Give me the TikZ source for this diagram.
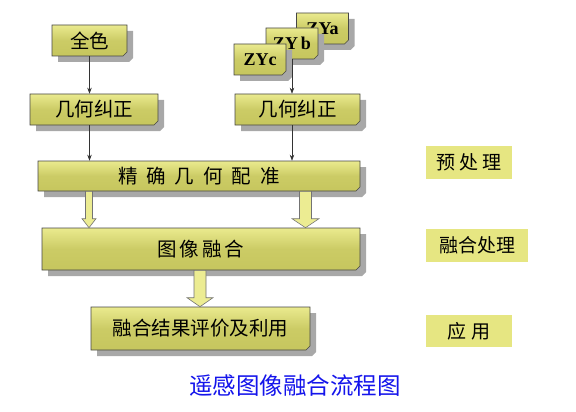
\documentclass[tikz,border=0pt]{standalone}
\usepackage{fontspec}
\setmainfont{Noto Sans CJK SC}
\newfontfamily\tms{Liberation Serif}
\usetikzlibrary{shapes.misc,shadows,calc,arrows.meta}
\definecolor{boxtop}{RGB}{234,234,142}
\definecolor{boxbot}{RGB}{198,198,94}
\definecolor{labfill}{RGB}{230,230,130}
\definecolor{shd}{RGB}{168,168,168}
\definecolor{edge}{RGB}{70,70,70}
\definecolor{ttl}{RGB}{20,20,235}
\definecolor{arrfill}{RGB}{236,236,146}
\begin{document}
\begin{tikzpicture}[x=1pt,y=-1pt,
  box/.style={chamfered rectangle, chamfered rectangle corners=south east,
    chamfered rectangle xsep=2pt, chamfered rectangle ysep=2pt,
    draw=edge, line width=0.6pt, top color=boxtop, bottom color=boxbot,
    middle color=boxbot!85!boxtop,
    drop shadow={shadow xshift=6pt, shadow yshift=-6pt, fill=shd, opacity=1},
    inner sep=0pt, font=\fontsize{19.5pt}{22pt}\selectfont},
  zybox/.style={box, minimum width=52pt, minimum height=31pt,
    font=\tms\fontsize{18pt}{20pt}\selectfont\bfseries},
  labbox/.style={rectangle, fill=labfill, inner sep=0pt,
    font=\fontsize{19pt}{21pt}\selectfont},
  thinarr/.style={draw=black!80, line width=0.6pt, -{Stealth[length=6pt,width=4.5pt]}},
  barrow/.style={fill=arrfill, draw=black!55, line width=0.6pt, line join=miter}]
\useasboundingbox (0,0) rectangle (576,412);

% top sources
\node[box, minimum width=75pt, minimum height=31pt] (qs) at (89.5,40.5) {全色};
\node[zybox] (zya) at (322.5,28.5) {ZYa};
\node[zybox] (zyb) at (292,43.5) {ZY\,b};
\node[zybox] (zyc) at (260,59.5) {ZYc};

% geometric correction
\node[box, minimum width=128pt, minimum height=31pt] (gl) at (94,109.5) {几何纠正};
\node[box, minimum width=125pt, minimum height=31pt] (gr) at (297.5,109.5) {几何纠正};

% registration
\node[box, minimum width=322pt, minimum height=30pt] (prec) at (199,176)
  {精\hspace{9pt}确\hspace{9pt}几\hspace{9pt}何\hspace{9pt}配\hspace{9pt}准};

% fusion
\node[box, minimum width=318pt, minimum height=42pt] (fuse) at (201,249)
  {图\hspace{3pt}像\hspace{3pt}融\hspace{3pt}合};

% evaluation
\node[box, minimum width=219pt, minimum height=43pt] (eval) at (200.5,328.5)
  {融合结果评价及利用};

% right labels
\node[labbox, minimum width=86pt, minimum height=33pt] (lab1) at (469,162.5) {预\hspace{4pt}处\hspace{4pt}理};
\node[labbox, minimum width=102pt, minimum height=33pt] (lab2) at (477,245.5) {融合处理};
\node[labbox, minimum width=86pt, minimum height=32pt] (lab3) at (469,331) {应\hspace{6pt}用};

% title
\node[text=ttl, font=\fontsize{23.5pt}{26pt}\selectfont, inner sep=0pt] (title) at (295,386) {遥感图像融合流程图};

% thin arrows
\draw[thinarr] (qs.south) -- (qs.south |- gl.north);
\draw[thinarr] (qs.south |- gl.south) -- (qs.south |- prec.north);
\draw[thinarr] (zyb.south) -- (zyb.south |- gr.north);
\draw[thinarr] (zyb.south |- gr.south) -- (zyb.south |- prec.north);

% block arrows
\coordinate (ax1) at (89,0);
\coordinate (ax2) at (305.5,0);
\coordinate (ax3) at (200,0);
\path let \p1=(ax1 |- prec.south), \p2=(ax1 |- fuse.north) in
  [barrow] (\x1-3.5pt,\y1) -- (\x1+3.5pt,\y1) -- (\x1+3.5pt,\y2+9pt) -- (\x1+7pt,\y2+9pt)
  -- (\x1,\y2) -- (\x1-7pt,\y2+9pt) -- (\x1-3.5pt,\y2+9pt) -- cycle;
\path let \p1=(ax2 |- prec.south), \p2=(ax2 |- fuse.north) in
  [barrow] (\x1-6pt,\y1) -- (\x1+6pt,\y1) -- (\x1+6pt,\y2+9pt) -- (\x1+13.5pt,\y2+9pt)
  -- (\x1,\y2) -- (\x1-13.5pt,\y2+9pt) -- (\x1-6pt,\y2+9pt) -- cycle;
\path let \p1=(ax3 |- fuse.south), \p2=(ax3 |- eval.north) in
  [barrow] (\x1-6pt,\y1) -- (\x1+6pt,\y1) -- (\x1+6pt,\y2+9pt) -- (\x1+13pt,\y2+9pt)
  -- (\x1,\y2) -- (\x1-13pt,\y2+9pt) -- (\x1-6pt,\y2+9pt) -- cycle;
\end{tikzpicture}
\end{document}
